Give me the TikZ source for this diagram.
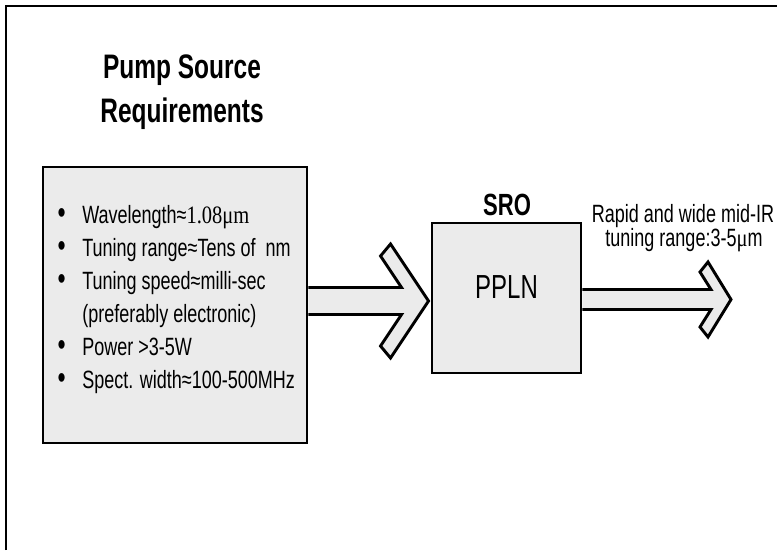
\documentclass[tikz,border=0pt]{standalone}
\usepackage{fontspec}
\setmainfont{Liberation Sans}[FakeStretch=0.72]
\newfontfamily\serifnum{Liberation Serif}[FakeStretch=0.82]
\usetikzlibrary{calc, fit}
\definecolor{BoxGray}{HTML}{EBEBEB}
\newcommand{\bul}{\llap{{\fontsize{24}{24}\selectfont\textbullet}\hspace{12.5pt}}}

\begin{document}
\begin{tikzpicture}[x=0.75pt, y=-0.75pt,
  blk/.style={draw=black, fill=BoxGray, line width=2.2pt, inner sep=0pt},
  fat/.style={draw=black, fill=BoxGray, line width=2.2pt, line join=miter},
  item/.style={anchor=base west, inner sep=0pt, font=\fontsize{18.75}{22}\selectfont},
  hdr/.style={anchor=base, inner sep=0pt, font=\fontsize{25.5}{30}\selectfont\bfseries},
]
\useasboundingbox (0,0) rectangle (777,550);
% frame, cut at right and bottom
\draw[line width=1.8pt] (6,550) -- (6,6) -- (777,6);

\node[hdr] (ttl1) at (182,78)  {Pump Source};
\node[hdr] (ttl2) at (182,122) {Requirements};

\node[blk, fit={(43,167) (307,443)}] (req) {};
\node[blk, fit={(432,223) (581,373)}, font=\fontsize{25}{30}\selectfont] (sro) {PPLN};
\node[hdr, font=\fontsize{23}{28}\selectfont\bfseries] (srolbl) at (507,215) {SRO};

\node[item] (w1) at (82,223) {\bul Wavelength≈{\serifnum 1.08μm}};
\node[item] (w2) at (82,256) {\bul Tuning range≈Tens of~ nm};
\node[item] (w3) at (82,289) {\bul Tuning speed≈milli-sec};
\node[item] (w4) at (82,322) {(preferably electronic)};
\node[item] (w5) at (82,355) {\bul Power >3-5W};
\node[item] (w6) at (82,388) {\bul Spect. width≈100-500MHz};

\node[item, anchor=base] (out1) at (683,222) {Rapid and wide mid-IR};
\node[item, anchor=base] (out2) at (684,246) {tuning range:3-5{\serifnum μ}m};

% fat arrows
\coordinate (tipL) at ($(sro.west)+(-2,3)$);
\draw[fat] ($(req.east |- tipL)+(0,-13.5)$) -- ($(tipL)+(-27,-13.5)$) -- ($(tipL)+(-48,-45)$)
  -- ($(tipL)+(-38,-57)$) -- (tipL) -- ($(tipL)+(-38,57)$) -- ($(tipL)+(-48,45)$)
  -- ($(tipL)+(-27,13.5)$) -- ($(req.east |- tipL)+(0,13.5)$);
\coordinate (tipR) at (731,299.5);
\draw[fat] ($(sro.east |- tipR)+(0,-10)$) -- ($(tipR)+(-20,-10)$) -- ($(tipR)+(-31,-27.5)$)
  -- ($(tipR)+(-23,-37.5)$) -- (tipR) -- ($(tipR)+(-23,37.5)$) -- ($(tipR)+(-31,27.5)$)
  -- ($(tipR)+(-20,10)$) -- ($(sro.east |- tipR)+(0,10)$);
\end{tikzpicture}
\end{document}
